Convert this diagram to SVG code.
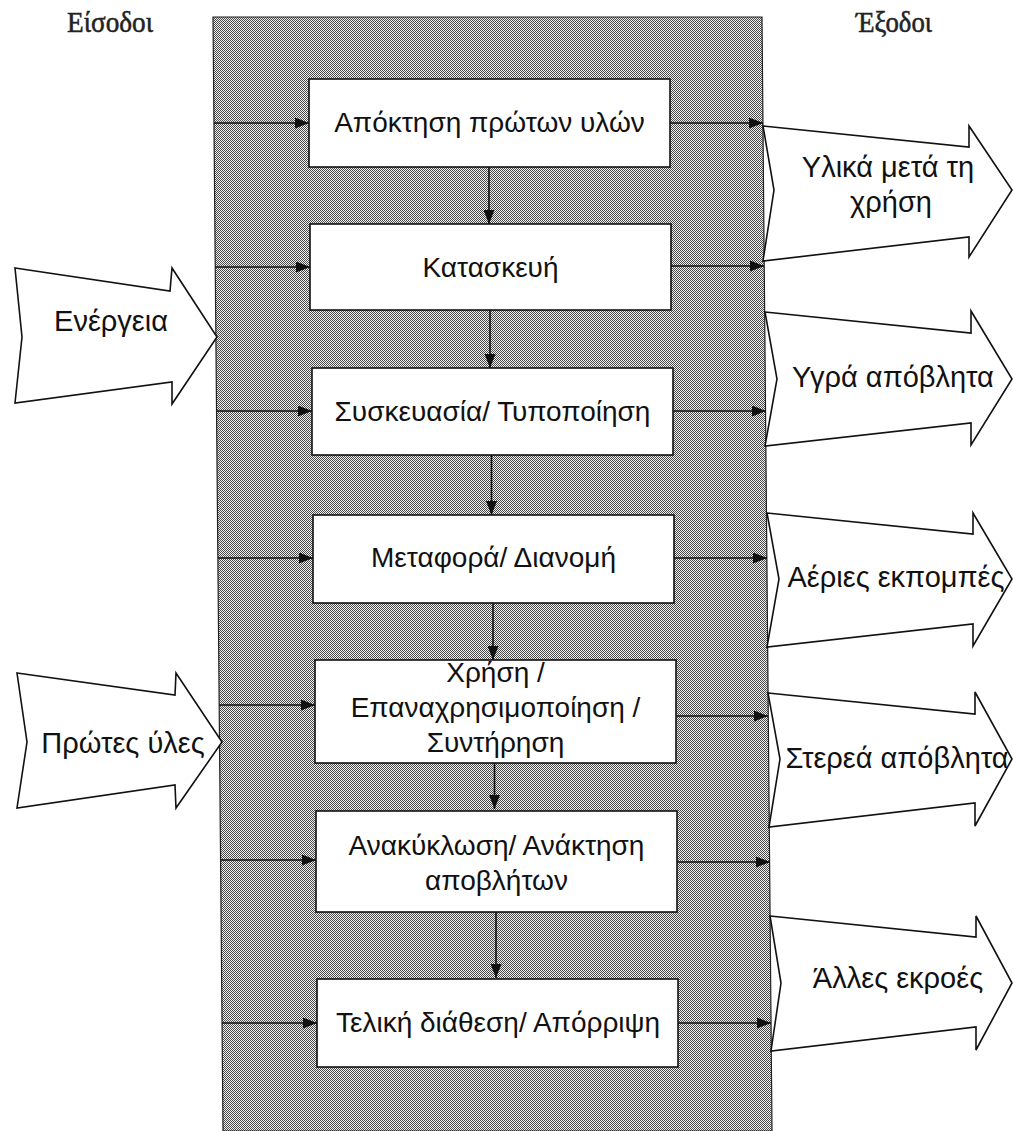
<svg xmlns="http://www.w3.org/2000/svg" width="1013" height="1131" viewBox="0 0 1013 1131">
  <defs>
    <!-- fine dither used for the process column -->
    <pattern id="dither" patternUnits="userSpaceOnUse" width="2" height="2">
      <rect width="2" height="2" fill="#f2f2f2"/>
      <rect x="0" y="0" width="1" height="1" fill="#484848"/>
      <rect x="1" y="1" width="1" height="1" fill="#484848"/>
    </pattern>
    <marker id="head" viewBox="0 0 14 11" refX="14" refY="5.5" markerWidth="14" markerHeight="11" markerUnits="userSpaceOnUse" orient="auto">
      <path d="M0,0 L14,5.5 L0,11 z" fill="#111"/>
    </marker>
    <style>
      .step { fill: #fff; stroke: #111; stroke-width: 1.6; }
      .block { fill: #fff; stroke: #111; stroke-width: 1.6; stroke-linejoin: miter; }
      .flow { stroke: #111; stroke-width: 1.6; fill: none; marker-end: url(#head); }
      .lbl { font-family: "Liberation Sans", Arial, sans-serif; font-size: 28px; fill: #111; text-anchor: middle; }
      .big { font-family: "Liberation Sans", Arial, sans-serif; font-size: 29px; fill: #111; text-anchor: middle; }
      .head { font-family: "Liberation Serif", "Times New Roman", serif; font-size: 22px; fill: #222; text-anchor: middle; stroke: #222; stroke-width: 0.4; }
    </style>
  </defs>

  <rect width="1013" height="1131" fill="#fff"/>

  <!-- column headings -->
  <g id="heading-inputs" transform="translate(110,32) scale(1,1.3)">
    <text class="head" x="0" y="0" textLength="86" lengthAdjust="spacingAndGlyphs">Είσοδοι</text>
  </g>
  <g id="heading-outputs" transform="translate(894,32) scale(1,1.3)">
    <text class="head" x="0" y="0" textLength="76" lengthAdjust="spacingAndGlyphs">Έξοδοι</text>
  </g>

  <!-- process column (slightly leaning, as printed) -->
  <g id="process-column">
    <polygon points="213,17 762,17 772,1131 223,1131" fill="url(#dither)" stroke="#222" stroke-width="1.2"/>
  </g>

  <!-- input block arrows -->
  <g id="input-energy">
    <polygon class="block" points="15,268 170,291 172,268 217,337 172,404 172,382 15,403 22,337"/>
    <text class="big" x="111" y="331">Ενέργεια</text>
  </g>
  <g id="input-raw-materials">
    <polygon class="block" points="17,673 175,695 176,673 222,742 176,808 175,785 17,808 27,742"/>
    <text class="big" x="123" y="753">Πρώτες ύλες</text>
  </g>

  <!-- output block arrows -->
  <g id="output-used-materials">
    <polygon class="block" points="763,126 969,147 969,126 1012,190 969,257 969,237 763,261 774,190"/>
    <text class="big" x="888" y="177">Υλικά μετά τη</text>
    <text class="big" x="891" y="212">χρήση</text>
  </g>
  <g id="output-liquid-waste">
    <polygon class="block" points="765,312 971,333 971,311 1012,379 971,445 971,423 765,446 777,379"/>
    <text class="big" x="893" y="387">Υγρά απόβλητα</text>
  </g>
  <g id="output-air-emissions">
    <polygon class="block" points="767,513 973,534 973,513 1012,579 973,646 973,624 767,647 779,579"/>
    <text class="big" x="896" y="587">Αέριες εκπομπές</text>
  </g>
  <g id="output-solid-waste">
    <polygon class="block" points="768,693 975,714 975,692 1012,759 975,826 975,803 769,827 780,759"/>
    <text class="big" x="897" y="768">Στερεά απόβλητα</text>
  </g>
  <g id="output-other">
    <polygon class="block" points="770,916 976,937 976,916 1012,983 976,1050 976,1027 771,1051 781,983"/>
    <text class="big" x="898" y="988">Άλλες εκροές</text>
  </g>

  <!-- connectors -->
  <g id="connectors">
    <!-- inputs entering each stage -->
    <line class="flow" x1="214" y1="123" x2="309" y2="123"/>
    <line class="flow" x1="215" y1="267" x2="310" y2="267"/>
    <line class="flow" x1="217" y1="411" x2="312" y2="411"/>
    <line class="flow" x1="218" y1="558" x2="313" y2="558"/>
    <line class="flow" x1="219" y1="705" x2="315" y2="705"/>
    <line class="flow" x1="221" y1="860" x2="316" y2="860"/>
    <line class="flow" x1="222" y1="1023" x2="317" y2="1023"/>
    <!-- outputs leaving each stage -->
    <line class="flow" x1="670" y1="123" x2="763" y2="123"/>
    <line class="flow" x1="671" y1="266" x2="764" y2="266"/>
    <line class="flow" x1="673" y1="411" x2="766" y2="411"/>
    <line class="flow" x1="674" y1="558" x2="767" y2="558"/>
    <line class="flow" x1="676" y1="716" x2="768" y2="716"/>
    <line class="flow" x1="677" y1="862" x2="770" y2="862"/>
    <line class="flow" x1="678" y1="1023" x2="771" y2="1023"/>
    <!-- stage to stage -->
    <line class="flow" x1="489" y1="167" x2="489" y2="224"/>
    <line class="flow" x1="490" y1="310" x2="490" y2="368"/>
    <line class="flow" x1="491.5" y1="455" x2="491.5" y2="515"/>
    <line class="flow" x1="493" y1="603" x2="493" y2="660"/>
    <line class="flow" x1="494.5" y1="763" x2="494.5" y2="809"/>
    <line class="flow" x1="496" y1="912" x2="496" y2="978"/>
  </g>

  <!-- life-cycle stages -->
  <g id="stage-acquisition">
    <rect class="step" x="309" y="79" width="361" height="88"/>
    <text class="lbl" x="489.5" y="132">Απόκτηση πρώτων υλών</text>
  </g>
  <g id="stage-manufacture">
    <rect class="step" x="310" y="224" width="361" height="86"/>
    <text class="lbl" x="490.5" y="277">Κατασκευή</text>
  </g>
  <g id="stage-packaging">
    <rect class="step" x="312" y="368" width="361" height="87"/>
    <text class="lbl" x="492.5" y="421">Συσκευασία/ Τυποποίηση</text>
  </g>
  <g id="stage-distribution">
    <rect class="step" x="313" y="515" width="361" height="88"/>
    <text class="lbl" x="493.5" y="567">Μεταφορά/ Διανομή</text>
  </g>
  <g id="stage-use">
    <rect class="step" x="315" y="660" width="361" height="103"/>
    <text class="lbl" x="495.5" y="682">Χρήση /</text>
    <text class="lbl" x="495.5" y="717">Επαναχρησιμοποίηση /</text>
    <text class="lbl" x="495.5" y="752">Συντήρηση</text>
  </g>
  <g id="stage-recycling">
    <rect class="step" x="316" y="811" width="361" height="101"/>
    <text class="lbl" x="496.5" y="855">Ανακύκλωση/ Ανάκτηση</text>
    <text class="lbl" x="496.5" y="890">αποβλήτων</text>
  </g>
  <g id="stage-disposal">
    <rect class="step" x="317" y="979" width="361" height="88"/>
    <text class="lbl" x="498" y="1032">Τελική διάθεση/ Απόρριψη</text>
  </g>
</svg>
